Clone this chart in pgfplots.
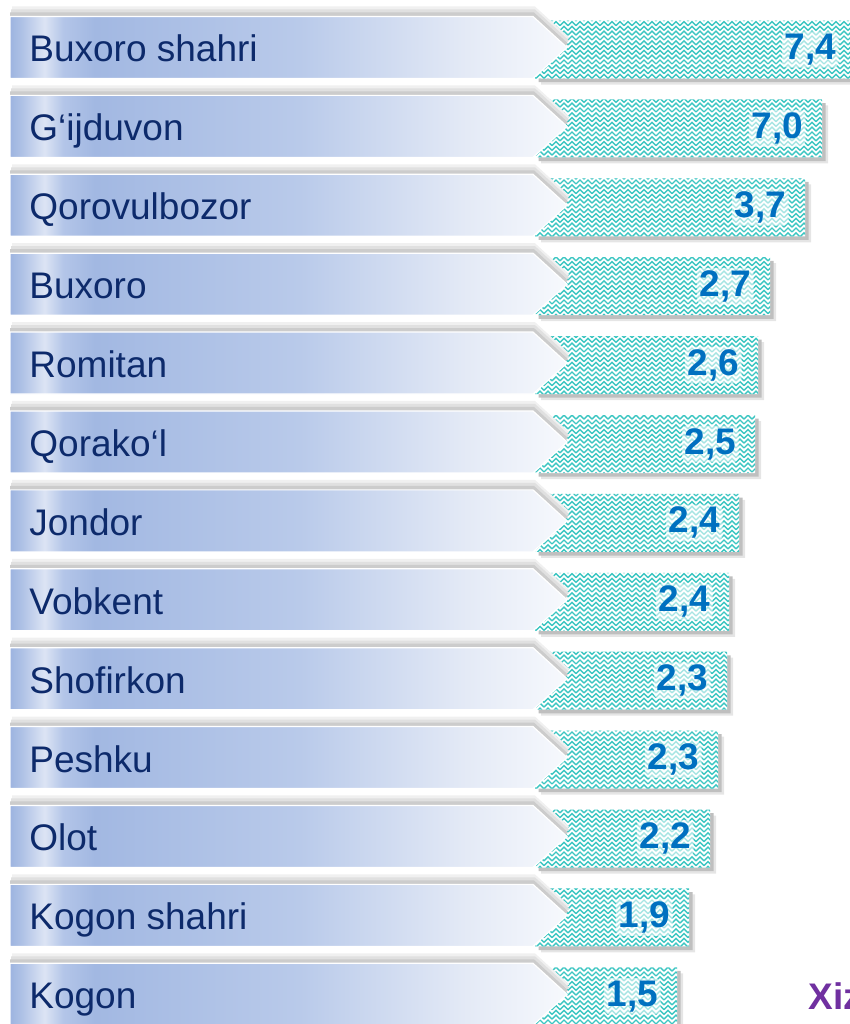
\documentclass[border=0pt]{standalone}
\usepackage{fontspec}
\setmainfont{Liberation Sans}
\usepackage{pgfplots}
\usepackage{pgfplotstable}
\pgfplotsset{compat=1.18}
\usetikzlibrary{patterns}
\definecolor{navy}{HTML}{0D2A6B}
\definecolor{valblue}{HTML}{0070C0}
\definecolor{tealdot}{HTML}{3CC6C2}
\definecolor{xizpurple}{HTML}{7030A0}
\definecolor{bA}{HTML}{9DB4E0}
\definecolor{bB}{HTML}{AFC2E6}
\definecolor{bC}{HTML}{DCE4F4}
\definecolor{bD}{HTML}{B3C5E8}
\definecolor{bE}{HTML}{A2B8E2}
\definecolor{bF}{HTML}{B9CAEA}
\definecolor{bG}{HTML}{E4EAF6}
\definecolor{bH}{HTML}{F7F9FD}
\pgfdeclarehorizontalshading{boxshade}{100bp}{color(0bp)=(bA); color(25bp)=(bA); color(26.1bp)=(bB); color(28.1bp)=(bC); color(29.8bp)=(bD); color(32.6bp)=(bE); color(51bp)=(bF); color(66bp)=(bG); color(75bp)=(bH); color(100bp)=(bH)}
\pgfdeclarepatternformonly{zigzag}{\pgfqpoint{-0.5pt}{-0.5pt}}{\pgfqpoint{4.5pt}{2.5pt}}{\pgfqpoint{4pt}{2.4pt}}{%
  \pgfsetlinewidth{0.7pt}%
  \pgfpathmoveto{\pgfqpoint{0pt}{0pt}}%
  \pgfpathlineto{\pgfqpoint{2pt}{2pt}}%
  \pgfpathlineto{\pgfqpoint{4pt}{0pt}}%
  \pgfusepath{stroke}%
}

\pgfplotstableread{
row len lab
0 320 7,4
1 287 7,0
2 270 3,7
3 235 2,7
4 223 2,6
5 220 2,5
6 204 2,4
7 194 2,4
8 192 2,3
9 183 2,3
10 175 2,2
11 154 1,9
12 142 1,5
}\data

\begin{document}
\begin{tikzpicture}
\useasboundingbox (0,0) rectangle (425pt,512pt);
\begin{axis}[
  at={(0,0)}, anchor=south west,
  scale only axis, width=425pt, height=512pt,
  xmin=-535, xmax=315,
  ymin=-0.6274, ymax=12.351,
  y dir=reverse,
  hide axis, clip=false,
]
\addplot[xbar, bar shift=0pt, bar width=29pt, fill=black!10, draw=none, xshift=3pt, yshift=-3pt, forget plot]
  table[x=len, y=row] {\data};
\addplot[xbar, bar shift=0pt, bar width=29pt, fill=black!25, draw=none, xshift=1.8pt, yshift=-1.8pt, forget plot]
  table[x=len, y=row] {\data};
\addplot[xbar, bar shift=0pt, bar width=29pt, fill=white, draw=none,
  postaction={pattern=zigzag, pattern color=tealdot},
  point meta=explicit symbolic,
  nodes near coords,
  every node near coord/.append style={anchor=east, xshift=-8pt, inner sep=1.3pt,
    fill=white, fill opacity=0.55, text opacity=1, rounded corners=3pt, text=valblue,
    font=\fontsize{18.5}{22}\selectfont\bfseries},
  ]
  table[x=len, y=row, meta=lab] {\data};
\end{axis}
\begin{scope}[x=0.5pt, y=-0.5pt, shift={(0,512pt)}]
\foreach \i/\name in {0/Buxoro shahri, 1/G‘ijduvon, 2/Qorovulbozor, 3/Buxoro, 4/Romitan, 5/Qorako‘l, 6/Jondor, 7/Vobkent, 8/Shofirkon, 9/Peshku, 10/Olot, 11/Kogon shahri, 12/Kogon} {
  \pgfmathsetmacro\c{49.5+78.9*\i}
  \pgfmathsetmacro\t{\c-33}
  \pgfmathsetmacro\b{\c+29}
  \pgfmathsetmacro\m{\c-2}
  \fill[black!6] (12,\b-10) -- (535,\b-10) -- (569,\m-10) -- (535,\t-10) -- (12,\t-10) -- cycle;
  \fill[black!12] (11,\b-7) -- (535,\b-7) -- (569,\m-7) -- (535,\t-7) -- (11,\t-7) -- cycle;
  \fill[black!20] (10,\b-4) -- (534,\b-4) -- (568,\m-4) -- (534,\t-4) -- (10,\t-4) -- cycle;
  \shade[shading=boxshade, draw=white, line width=0.6pt] (10,\b) -- (533,\b) -- (567,\m) -- (533,\t) -- (10,\t) -- cycle;
  \node[anchor=base west, text=navy, font=\fontsize{18.5}{22}\selectfont, inner sep=0pt] at (29,\c+12.5) {\name};
}
\node[overlay, anchor=base west, text=xizpurple, font=\fontsize{18.5}{22}\selectfont\bfseries, inner sep=0pt] at (808,1010) {Xiz};
\end{scope}
\end{tikzpicture}
\end{document}
